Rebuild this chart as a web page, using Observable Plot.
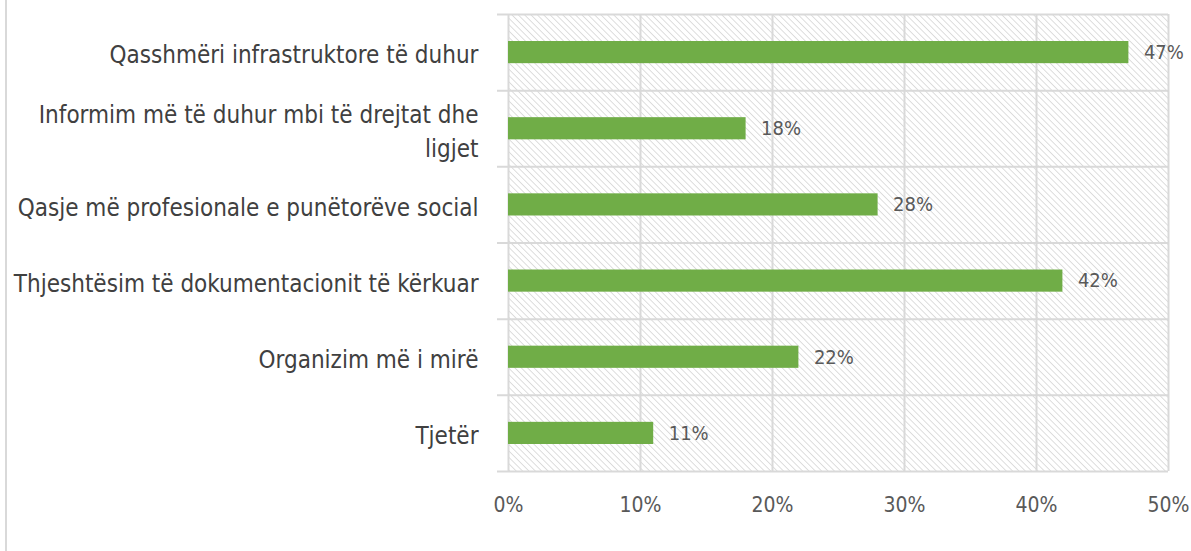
<!DOCTYPE html>
<html>
<head>
<meta charset="utf-8">
<script src="https://cdn.jsdelivr.net/npm/d3@7"></script>
<script src="https://cdn.jsdelivr.net/npm/@observablehq/plot@0.6"></script>
<style>
  html, body { margin: 0; padding: 0; background: #fff; }
  #wrap { position: relative; width: 1191px; height: 551px; overflow: hidden; }
  #frameline { position: absolute; left: 5px; top: 0; width: 2px; height: 551px; background: #d9d9d9; }
  #chart { position: absolute; left: 0; top: 0; }
</style>
</head>
<body>
<div id="wrap"><div id="chart"></div><div id="frameline"></div></div>
<script>
const categories = [
  "Qasshmëri infrastruktore të duhur",
  "Informim më të duhur mbi të drejtat dhe\nligjet",
  "Qasje më profesionale e punëtorëve social",
  "Thjeshtësim të dokumentacionit të kërkuar",
  "Organizim më i mirë",
  "Tjetër"
];
const values = [0.47, 0.18, 0.28, 0.42, 0.22, 0.11];
const xTicks = [0, 0.1, 0.2, 0.3, 0.4, 0.5];

const data = categories.map((c, i) => ({category: c, value: values[i]}));

const W = 1191, H = 551, mT = 14, mB = 80, mL = 508, mR = 23;
const step = (H - mT - mB) / categories.length;
const grid = "#d9d9d9";
const font = "'DejaVu Sans Condensed', 'DejaVu Sans', sans-serif";

const chart = Plot.plot({
  width: W, height: H,
  marginTop: mT, marginBottom: mB, marginLeft: mL, marginRight: mR,
  style: {fontFamily: font, background: "transparent"},
  x: {domain: [0, 0.5], ticks: xTicks},
  y: {domain: categories, padding: 0, round: false},
  marks: [
    Plot.frame({fill: "url(#hatch)", stroke: null}),
    Plot.ruleX(xTicks, {stroke: grid, strokeWidth: 2}),
    Plot.ruleY(data, {y: "category", x1: 0, x2: 0.5, dy: -step / 2, insetLeft: -11, stroke: grid, strokeWidth: 2}),
    Plot.ruleY(data.slice(-1), {y: "category", x1: 0, x2: 0.5, dy: step / 2, insetLeft: -11, stroke: grid, strokeWidth: 2}),
    Plot.barX(data, {y: "category", x: "value", fill: "#70ad47", insetTop: 27, insetBottom: 27}),
    Plot.text(data, {y: "category", x: "value", text: d => Math.round(d.value * 100) + "%", textAnchor: "start", dx: 15, fill: "#595959", fontSize: 20, fontFamily: font}),
    Plot.axisY({tickSize: 0, tickPadding: 30, fontSize: 24, fill: "#404040", lineHeight: 1.42, label: null, fontFamily: font}),
    Plot.axisX({ticks: xTicks, tickSize: 0, tickPadding: 26, fontSize: 21, fill: "#595959", tickFormat: d => Math.round(d * 100) + "%", label: null, fontFamily: font})
  ]
});

const ns = "http://www.w3.org/2000/svg";
const defs = document.createElementNS(ns, "defs");
defs.innerHTML = `<pattern id="hatch" patternUnits="userSpaceOnUse" width="4.5" height="4.5" patternTransform="rotate(-45)">
  <line x1="0" y1="0" x2="0" y2="4.5" stroke="#d3d3d3" stroke-width="1.5"></line></pattern>`;
chart.insertBefore(defs, chart.firstChild);
document.getElementById("chart").appendChild(chart);
</script>
</body>
</html>
